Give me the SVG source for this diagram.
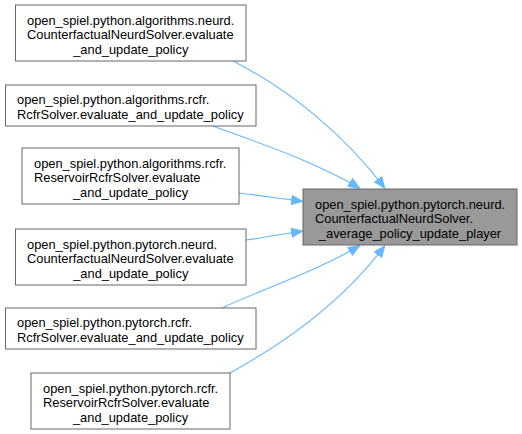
<svg xmlns="http://www.w3.org/2000/svg" width="522" height="434" viewBox="0 0 522 434">
<style>
  .box { fill: #ffffff; stroke: #666666; stroke-width: 1; }
  .hl { fill: #999999; stroke: #666666; stroke-width: 1; }
  text { font-family: "Liberation Sans", Arial, Helvetica, sans-serif; font-size: 12.86px; fill: #000000; }
  .c { text-anchor: middle; }
  .edge { fill: none; stroke: #63b8ff; stroke-width: 1.1; }
</style>
<defs>
  <marker id="arrow" viewBox="0 0 12 10" refX="12" refY="5" markerWidth="12" markerHeight="10" markerUnits="userSpaceOnUse" orient="auto">
    <path d="M0.5,0.5 L11.5,5 L0.5,9.5 z" fill="#63b8ff" stroke="#63b8ff" stroke-width="1"/>
  </marker>
</defs>
<rect width="522" height="434" fill="#ffffff"/>
<g id="edges">
  <path class="edge" marker-end="url(#arrow)" d="M233,61 C290,90 345,135 385,188.5"/>
  <path class="edge" marker-end="url(#arrow)" d="M213,126 C250,140 315,161 360,188.5"/>
  <path class="edge" marker-end="url(#arrow)" d="M239,193 C260,195.5 280,198.5 303,201.5"/>
  <path class="edge" marker-end="url(#arrow)" d="M246,240 C262,238 280,234.5 303,231"/>
  <path class="edge" marker-end="url(#arrow)" d="M222,308 C260,290 315,272 360,245.5"/>
  <path class="edge" marker-end="url(#arrow)" d="M230,373 C290,340 345,299 385,245.5"/>
</g>
<g id="target">
  <rect class="hl" x="303" y="189" width="214" height="56"/>
  <text x="315" y="208.5">open_spiel.python.pytorch.neurd.</text>
  <text x="315" y="223">CounterfactualNeurdSolver.</text>
  <text class="c" x="410" y="237.5">_average_policy_update_player</text>
</g>
<g id="node1">
  <rect class="box" x="15.5" y="5" width="230.5" height="56"/>
  <text x="27" y="24.5">open_spiel.python.algorithms.neurd.</text>
  <text x="27" y="39">CounterfactualNeurdSolver.evaluate</text>
  <text class="c" x="130.75" y="53.5">_and_update_policy</text>
</g>
<g id="node2">
  <rect class="box" x="5.5" y="85" width="250.5" height="41"/>
  <text x="17" y="104.25">open_spiel.python.algorithms.rcfr.</text>
  <text x="17" y="118.75">RcfrSolver.evaluate_and_update_policy</text>
</g>
<g id="node3">
  <rect class="box" x="22" y="148" width="217" height="56"/>
  <text x="34" y="167.5">open_spiel.python.algorithms.rcfr.</text>
  <text x="34" y="182">ReservoirRcfrSolver.evaluate</text>
  <text class="c" x="130.5" y="196.5">_and_update_policy</text>
</g>
<g id="node4">
  <rect class="box" x="15.5" y="229" width="230.5" height="56"/>
  <text x="27" y="248.5">open_spiel.python.pytorch.neurd.</text>
  <text x="27" y="263">CounterfactualNeurdSolver.evaluate</text>
  <text class="c" x="130.75" y="277.5">_and_update_policy</text>
</g>
<g id="node5">
  <rect class="box" x="5.5" y="308" width="250.5" height="41"/>
  <text x="17" y="327.25">open_spiel.python.pytorch.rcfr.</text>
  <text x="17" y="341.75">RcfrSolver.evaluate_and_update_policy</text>
</g>
<g id="node6">
  <rect class="box" x="31" y="373" width="199" height="56"/>
  <text x="43" y="392.5">open_spiel.python.pytorch.rcfr.</text>
  <text x="43" y="407">ReservoirRcfrSolver.evaluate</text>
  <text class="c" x="130.5" y="421.5">_and_update_policy</text>
</g>
</svg>
